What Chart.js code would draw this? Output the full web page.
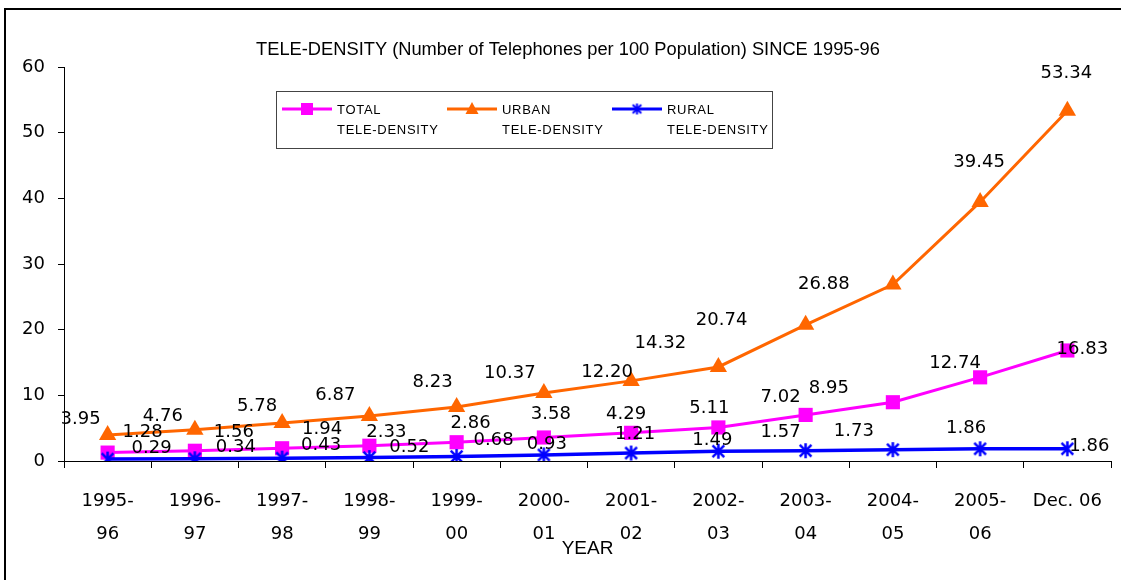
<!DOCTYPE html>
<html>
<head>
<meta charset="utf-8">
<script src="https://cdn.jsdelivr.net/npm/chart.js@4.4.0/dist/chart.umd.min.js"></script>
<style>
  html, body { margin: 0; background: #fff; overflow: hidden; }
  #teleChart { display: block; }
</style>
</head>
<body>
<canvas id="teleChart" width="1121" height="580"></canvas>
<script>
const years = [["1995-", "96"], ["1996-", "97"], ["1997-", "98"], ["1998-", "99"], ["1999-", "00"], ["2000-", "01"],
               ["2001-", "02"], ["2002-", "03"], ["2003-", "04"], ["2004-", "05"], ["2005-", "06"], "Dec. 06"];
const totalDensity = [1.28, 1.56, 1.94, 2.33, 2.86, 3.58, 4.29, 5.11, 7.02, 8.95, 12.74, 16.83];
const urbanDensity = [3.95, 4.76, 5.78, 6.87, 8.23, 10.37, 12.20, 14.32, 20.74, 26.88, 39.45, 53.34];
const ruralDensity = [0.29, 0.34, 0.43, 0.52, 0.68, 0.93, 1.21, 1.49, 1.57, 1.73, 1.86, 1.86];
const seriesNames = [["TOTAL", "TELE-DENSITY"], ["URBAN", "TELE-DENSITY"], ["RURAL", "TELE-DENSITY"]];

// where the value labels sit relative to their point (excel put them a bit all over the place)
const labelShift = [
  [[35,-20],[39,-18],[40,-19],[17,-13],[14,-19],[7,-23],[-5,-19],[-9,-19],[-25,-18],[-64,-14],[-25,-14],[15,-1]],
  [[-27,-16],[-32,-13],[-25,-17],[-34,-21],[-24,-25],[-34,-20],[-24,-9],[-58,-24],[-84,-4],[-69,0],[-1,-40],[-1,-37]],
  [[44,-11],[41,-11],[39,-13],[40,-10],[37,-16],[3,-11],[4,-19],[-6,-11],[-25,-18],[-39,-18],[-14,-20],[22,-2]]
];

const numFont = "'DejaVu Sans'";

function asterisk(size, color, lw) {
  const c = document.createElement('canvas');
  c.width = c.height = size;
  const g = c.getContext('2d');
  g.strokeStyle = color;
  g.lineWidth = lw;
  const m = size / 2, r = size / 2 - 1;
  const d = r * 0.78;
  g.beginPath();
  g.moveTo(m, m - r); g.lineTo(m, m + r);
  g.moveTo(m - d, m - d); g.lineTo(m + d, m + d);
  g.moveTo(m + d, m - d); g.lineTo(m - d, m + d);
  g.stroke();
  return c;
}
const starBig = asterisk(17, '#0000FF', 2.5);
const starSmall = asterisk(13, '#0000FF', 2);

const extras = {
  id: 'extras',
  beforeDraw(chart) {
    // outer frame, only left and top edges fall inside the picture
    const ctx = chart.ctx;
    ctx.save();
    ctx.fillStyle = '#000';
    ctx.fillRect(4, 8, 2, chart.height - 8);
    ctx.fillRect(4, 8, chart.width - 4, 2);
    ctx.restore();
  },
  afterDatasetsDraw(chart) {
    const ctx = chart.ctx;
    const area = chart.chartArea;

    // value labels
    ctx.save();
    ctx.beginPath();
    ctx.rect(area.left - 2, 0, chart.width, chart.height);
    ctx.clip();
    ctx.font = '18px ' + numFont;
    ctx.fillStyle = '#000';
    ctx.textAlign = 'center';
    ctx.textBaseline = 'middle';
    chart.data.datasets.forEach((ds, i) => {
      chart.getDatasetMeta(i).data.forEach((pt, j) => {
        const s = labelShift[i][j];
        ctx.fillText(ds.data[j].toFixed(2), pt.x + s[0], pt.y + s[1]);
      });
    });
    ctx.restore();

    // title
    ctx.save();
    ctx.font = '18.3px "Liberation Sans"';
    ctx.fillStyle = '#000';
    ctx.textAlign = 'center';
    ctx.textBaseline = 'middle';
    ctx.fillText('TELE-DENSITY (Number of Telephones per 100 Population) SINCE 1995-96', 568, 50);

    // axis title sits over the second row of year labels
    ctx.font = '19px "Liberation Sans"';
    ctx.fillText('YEAR', (area.left + area.right) / 2, 549);

    // legend box
    ctx.strokeStyle = '#444';
    ctx.lineWidth = 1;
    ctx.strokeRect(276.5, 91.5, 496, 57);
    const lx = [282, 447, 612];
    ctx.font = '13px "Liberation Sans"';
    ctx.letterSpacing = '0.7px';
    ctx.textAlign = 'left';
    chart.data.datasets.forEach((ds, i) => {
      const x = lx[i], y = 109;
      ctx.strokeStyle = ds.borderColor;
      ctx.lineWidth = 3;
      ctx.beginPath();
      ctx.moveTo(x, y);
      ctx.lineTo(x + 50, y);
      ctx.stroke();
      ctx.fillStyle = ds.borderColor;
      if (ds.pointStyle === 'rect') {
        ctx.fillRect(x + 19, y - 6, 12, 12);
      } else if (ds.pointStyle === 'triangle') {
        ctx.beginPath();
        ctx.moveTo(x + 25, y - 7);
        ctx.lineTo(x + 31.5, y + 5);
        ctx.lineTo(x + 18.5, y + 5);
        ctx.closePath();
        ctx.fill();
      } else {
        ctx.drawImage(starSmall, x + 25 - 6.5, y - 6.5);
      }
      ctx.fillStyle = '#000';
      ctx.fillText(seriesNames[i][0], x + 55, 110);
      ctx.fillText(seriesNames[i][1], x + 55, 130);
    });
    ctx.restore();
  }
};

new Chart(document.getElementById('teleChart'), {
  type: 'line',
  data: {
    labels: years,
    datasets: [
      {
        label: 'TOTAL TELE-DENSITY',
        data: totalDensity,
        borderColor: '#FF00FF',
        backgroundColor: '#FF00FF',
        borderWidth: 3,
        pointStyle: 'rect',
        pointRadius: 10,
        pointBorderWidth: 0,
        order: 3
      },
      {
        label: 'URBAN TELE-DENSITY',
        data: urbanDensity,
        borderColor: '#FF6600',
        backgroundColor: '#FF6600',
        borderWidth: 3,
        pointStyle: 'triangle',
        pointRadius: 10,
        pointBorderWidth: 0,
        order: 2
      },
      {
        label: 'RURAL TELE-DENSITY',
        data: ruralDensity,
        borderColor: '#0000FF',
        backgroundColor: '#0000FF',
        borderWidth: 3.5,
        pointStyle: starBig,
        order: 1
      }
    ]
  },
  options: {
    responsive: false,
    animation: false,
    events: [],
    layout: { padding: { left: 0, top: 67, right: 1, bottom: 0 } },
    plugins: {
      legend: { display: false },
      tooltip: { enabled: false }
    },
    scales: {
      x: {
        offset: true,
        grid: { offset: true, drawOnChartArea: false, tickLength: 7, color: '#000' },
        border: { color: '#000', width: 1 },
        ticks: {
          color: '#000',
          padding: 17,
          maxRotation: 0,
          autoSkip: false,
          font: { family: numFont, size: 18, lineHeight: '33px' }
        },
        afterFit(s) { s.height = 119; }
      },
      y: {
        min: 0,
        max: 60,
        ticks: { stepSize: 10, color: '#000', padding: 13, font: { family: numFont, size: 18 } },
        grid: { drawOnChartArea: false, tickLength: 6, color: '#000' },
        border: { color: '#000', width: 1 },
        afterFit(s) { s.width = 64; }
      }
    }
  },
  plugins: [extras]
});
</script>
</body>
</html>
